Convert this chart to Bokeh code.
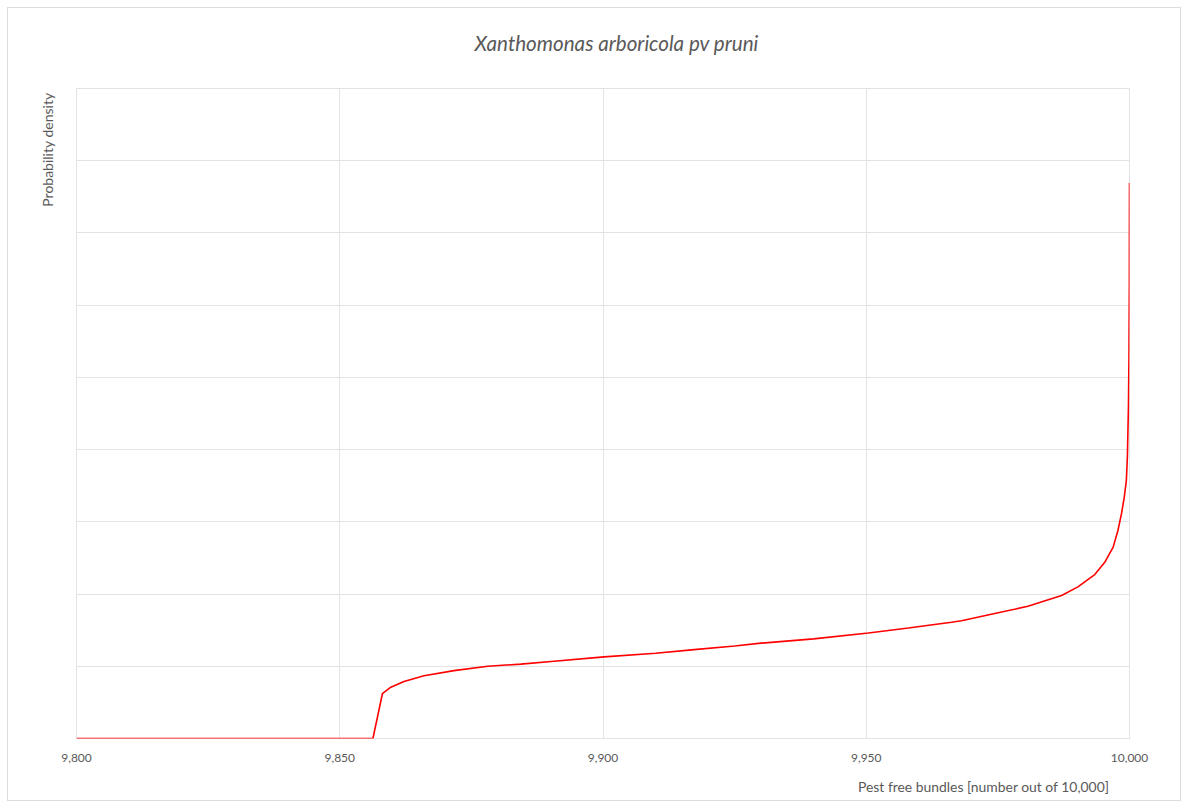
from bokeh.plotting import figure
from bokeh.models import FixedTicker, NumeralTickFormatter, Range1d, Title
from bokeh.embed import file_html
from bokeh.resources import INLINE

# Data
pest_free = [9800, 9856.3, 9858.1, 9859.7, 9862.2, 9866.0, 9871.7, 9878.1,
             9884.4, 9890.7, 9900.2, 9910.0, 9917.3, 9925.0, 9930.0, 9940.0,
             9950.4, 9958.0, 9966.2, 9968.1, 9974.4, 9980.7, 9987.1, 9990.2,
             9993.4, 9995.3, 9996.9, 9997.8, 9998.5, 9999.0, 9999.4, 9999.6,
             9999.8, 9999.9, 9999.97, 10000]
density = [0.0, 0.0, 0.62, 0.71, 0.79, 0.87, 0.94, 1.00,
           1.03, 1.07, 1.13, 1.18, 1.23, 1.28, 1.32, 1.38,
           1.46, 1.53, 1.61, 1.63, 1.73, 1.83, 1.98, 2.10,
           2.27, 2.44, 2.65, 2.88, 3.12, 3.34, 3.57, 3.9,
           4.6, 5.3, 6.3, 7.69]
x_ticks = [9800, 9850, 9900, 9950, 10000]
y_grid = [0, 1, 2, 3, 4, 5, 6, 7, 8, 9]

title_text = "Xanthomonas arboricola pv pruni"
x_label = "Pest free bundles [number out of 10,000]"
y_label = "Probability density"

FONT = "Lato"
TXT = "#595959"
GRID = "#e3e3e3"

W, H = 1174, 794
p = figure(width=W, height=H, output_backend="svg", toolbar_location=None,
           title=None,
           x_range=Range1d(9800, 10000), y_range=Range1d(0, 9),
           min_border_left=68, min_border_right=53, min_border_top=80,
           min_border_bottom=64)
p.styles = {"border": "1px solid #dcdcdc", "box-sizing": "border-box",
            "margin-left": "7px", "margin-top": "7px"}
p.background_fill_color = "white"
p.border_fill_color = "white"
p.outline_line_color = GRID
p.outline_line_width = 1

p.line(pest_free, density, line_color="#ff0000", line_width=1.6)

p.xaxis.ticker = FixedTicker(ticks=x_ticks)
p.xaxis.formatter = NumeralTickFormatter(format="0,0")
p.xaxis.axis_line_color = None
p.xaxis.major_tick_line_color = None
p.xaxis.minor_tick_line_color = None
p.xaxis.major_label_text_font = FONT
p.xaxis.major_label_text_font_size = "12px"
p.xaxis.major_label_text_color = TXT
p.xaxis.major_label_standoff = 9

p.yaxis.visible = False
p.xgrid.ticker = FixedTicker(ticks=x_ticks)
p.ygrid.ticker = FixedTicker(ticks=y_grid)
p.xgrid.grid_line_color = GRID
p.ygrid.grid_line_color = GRID

# spacing panels (blank), then the real title / x label further out
p.add_layout(Title(text=" ", text_font_size="1px", standoff=31), "above")
p.add_layout(Title(text=title_text, align="left", offset=398, standoff=0,
                   text_font=FONT, text_font_style="italic",
                   text_font_size="20.6px", text_color=TXT), "above")
p.add_layout(Title(text=" ", text_font_size="1px", standoff=8), "below")
p.add_layout(Title(text=x_label, align="right", offset=20, standoff=0,
                   text_font=FONT, text_font_style="normal",
                   text_font_size="13.9px", text_color=TXT), "below")
p.add_layout(Title(text=y_label, align="right", offset=4, standoff=41,
                   text_font=FONT, text_font_style="normal",
                   text_font_size="14px", text_color=TXT), "left")

open("out.html", "w").write(file_html(p, INLINE))
